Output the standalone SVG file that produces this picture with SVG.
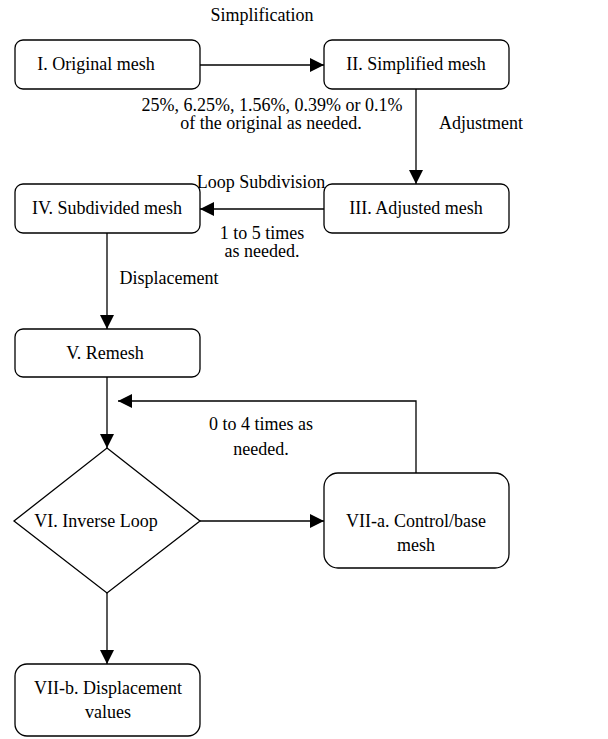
<svg xmlns="http://www.w3.org/2000/svg" width="608" height="739" viewBox="0 0 608 739" font-family="'Liberation Serif', 'Times New Roman', Times, serif" font-size="18">
<style>
.box{fill:#fff;stroke:#000;stroke-width:1.3}
text{font-family:'Liberation Serif','Times New Roman',Times,serif;font-size:18px;fill:#000;text-anchor:middle}
.c{fill:none;stroke:#000;stroke-width:1.3}
</style>
<defs>
<marker id="ah" markerUnits="userSpaceOnUse" markerWidth="14" markerHeight="14" refX="14" refY="7" orient="auto">
<path d="M0,0 L14,7 L0,14 Z" fill="#000"/>
</marker>
</defs>
<rect width="608" height="739" fill="#fff"/>
<g id="connectors">
<line class="c" x1="200" y1="65" x2="324" y2="65" marker-end="url(#ah)"/>
<line class="c" x1="416" y1="89" x2="416" y2="184" marker-end="url(#ah)"/>
<line class="c" x1="324" y1="209" x2="200" y2="209" marker-end="url(#ah)"/>
<line class="c" x1="107" y1="233" x2="107" y2="329" marker-end="url(#ah)"/>
<line class="c" x1="107" y1="377" x2="107" y2="448" marker-end="url(#ah)"/>
<polyline class="c" points="416,473 416,401 118,401" marker-end="url(#ah)"/>
<line class="c" x1="200" y1="521" x2="324" y2="521" marker-end="url(#ah)"/>
<line class="c" x1="107" y1="593" x2="107" y2="664" marker-end="url(#ah)"/>
<text x="262" y="21">Simplification</text>
<text x="272" y="111">25%, 6.25%, 1.56%, 0.39% or 0.1%</text>
<text x="271" y="129">of the original as needed.</text>
<text x="481" y="129">Adjustment</text>
<text x="261" y="188">Loop Subdivision</text>
<text x="262" y="239">1 to 5 times</text>
<text x="262" y="257">as needed.</text>
<text x="169" y="284">Displacement</text>
<text x="261" y="430">0 to 4 times as</text>
<text x="261" y="455">needed.</text>
</g>
<g id="n1"><rect class="box" x="15" y="40" width="185" height="49" rx="8"/><text x="96" y="70">I. Original mesh</text></g>
<g id="n2"><rect class="box" x="324" y="40" width="185" height="49" rx="8"/><text x="416" y="70">II. Simplified mesh</text></g>
<g id="n3"><rect class="box" x="324" y="184" width="185" height="49" rx="8"/><text x="416" y="214">III. Adjusted mesh</text></g>
<g id="n4"><rect class="box" x="15" y="184" width="185" height="49" rx="8"/><text x="107" y="214">IV. Subdivided mesh</text></g>
<g id="n5"><rect class="box" x="15" y="329" width="185" height="48" rx="8"/><text x="105" y="359">V. Remesh</text></g>
<g id="n6"><polygon class="box" points="107,448 200,521 107,593 14,521"/><text x="96" y="527">VI. Inverse Loop</text></g>
<g id="n7a"><rect class="box" x="324" y="473" width="185" height="95" rx="14"/><text x="416" y="527">VII-a. Control/base</text><text x="416" y="551">mesh</text></g>
<g id="n7b"><rect class="box" x="15" y="664" width="185" height="72" rx="12"/><text x="108" y="694">VII-b. Displacement</text><text x="108" y="718">values</text></g>
</svg>
